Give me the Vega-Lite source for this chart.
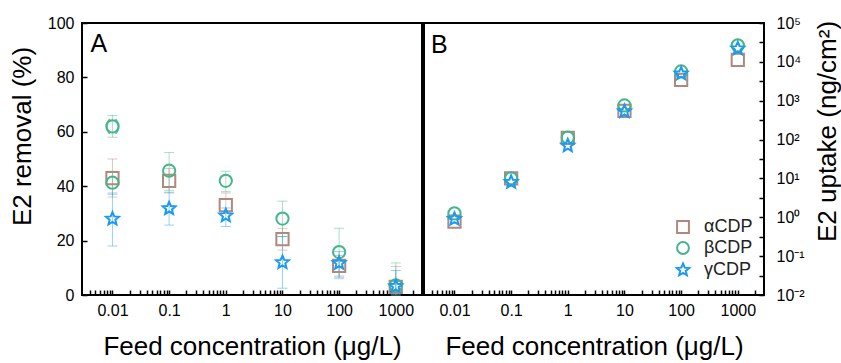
{
  "$schema": "https://vega.github.io/schema/vega-lite/v6.json",
  "padding": {"left": 8, "top": 14, "right": 2, "bottom": 0},
  "background": "white",
  "hconcat": [
    {
      "width": 340,
      "height": 272,
      "data": {"values": [
        {"conc": 0.01, "cdp": "αCDP", "v": 43, "lo": 36, "hi": 50, "paren": false},
        {"conc": 0.01, "cdp": "βCDP", "v": 41.3, "lo": 37, "hi": 45.5, "paren": false},
        {"conc": 0.01, "cdp": "βCDP", "v": 62, "lo": 58, "hi": 66, "paren": true},
        {"conc": 0.01, "cdp": "γCDP", "v": 28, "lo": 18, "hi": 37.5, "paren": false},
        {"conc": 0.1, "cdp": "αCDP", "v": 42, "lo": 37.5, "hi": 46.5, "paren": false},
        {"conc": 0.1, "cdp": "βCDP", "v": 45.7, "lo": 38.5, "hi": 52.4, "paren": false},
        {"conc": 0.1, "cdp": "γCDP", "v": 31.8, "lo": 25.7, "hi": 37.8, "paren": false},
        {"conc": 1, "cdp": "αCDP", "v": 33, "lo": 30, "hi": 37.5, "paren": false},
        {"conc": 1, "cdp": "βCDP", "v": 42, "lo": 38, "hi": 45.5, "paren": false},
        {"conc": 1, "cdp": "γCDP", "v": 29.2, "lo": 25.2, "hi": 32, "paren": false},
        {"conc": 10, "cdp": "αCDP", "v": 20.5, "lo": 16.5, "hi": 24.5, "paren": false},
        {"conc": 10, "cdp": "βCDP", "v": 28.1, "lo": 21.5, "hi": 34.5, "paren": false},
        {"conc": 10, "cdp": "γCDP", "v": 12, "lo": 2.5, "hi": 21.5, "paren": false},
        {"conc": 100, "cdp": "αCDP", "v": 10.7, "lo": 6, "hi": 14.5, "paren": false},
        {"conc": 100, "cdp": "βCDP", "v": 15.8, "lo": 7, "hi": 24.5, "paren": false},
        {"conc": 100, "cdp": "γCDP", "v": 11.7, "lo": 6.5, "hi": 16, "paren": false},
        {"conc": 1000, "cdp": "αCDP", "v": 3, "lo": 0, "hi": 10.5, "paren": false},
        {"conc": 1000, "cdp": "βCDP", "v": 3.5, "lo": 0, "hi": 11.8, "paren": false},
        {"conc": 1000, "cdp": "γCDP", "v": 3.2, "lo": 0, "hi": 9, "paren": false}
      ]},
      "layer": [
        {
          "mark": {"type": "rule", "strokeWidth": 1, "opacity": 0.45},
          "encoding": {
            "x": {"field": "conc", "type": "quantitative",
              "scale": {"type": "log", "domain": [0.0029, 2900], "nice": false},
              "axis": {"orient": "bottom", "title": "Feed concentration (μg/L)",
                "values": [0.004,0.005,0.006,0.007,0.008,0.009,0.01,0.02,0.03,0.04,0.05,0.06,0.07,0.08,0.09,0.1,0.2,0.3,0.4,0.5,0.6,0.7,0.8,0.9,1,2,3,4,5,6,7,8,9,10,20,30,40,50,60,70,80,90,100,200,300,400,500,600,700,800,900,1000,2000],
                "format": "~g",
                "labelExpr": "abs(log(datum.value)/LN10 - round(log(datum.value)/LN10)) < 0.001 ? datum.label : ''",
                "tickSize": -5, "labelPadding": 12, "titlePadding": 15}},
            "y": {"field": "lo", "type": "quantitative",
              "scale": {"domain": [0, 100], "nice": false},
              "axis": {"orient": "left", "title": "E2 removal (%)", "titleY": 113,
                "values": [0,10,20,30,40,50,60,70,80,90,100],
                "labelExpr": "datum.value % 20 === 0 ? datum.label : ''",
                "tickSize": -5, "labelPadding": 13, "titlePadding": 12}},
            "y2": {"field": "hi"},
            "color": {"field": "cdp", "type": "nominal", "legend": null,
              "scale": {"domain": ["αCDP", "βCDP", "γCDP"], "range": ["#b0887c", "#45b58a", "#1a9af0"]}}
          }
        },
        {
          "mark": {"type": "tick", "orient": "horizontal", "size": 10, "thickness": 1, "opacity": 0.45},
          "encoding": {
            "x": {"field": "conc", "type": "quantitative"},
            "y": {"field": "lo", "type": "quantitative"},
            "color": {"field": "cdp", "type": "nominal", "legend": null}
          }
        },
        {
          "mark": {"type": "tick", "orient": "horizontal", "size": 10, "thickness": 1, "opacity": 0.45},
          "encoding": {
            "x": {"field": "conc", "type": "quantitative"},
            "y": {"field": "hi", "type": "quantitative"},
            "color": {"field": "cdp", "type": "nominal", "legend": null}
          }
        },
        {
          "mark": {"type": "point", "filled": false, "strokeWidth": 2, "size": 150, "opacity": 1},
          "encoding": {
            "x": {"field": "conc", "type": "quantitative"},
            "y": {"field": "v", "type": "quantitative"},
            "color": {"field": "cdp", "type": "nominal", "legend": null},
            "shape": {"field": "cdp", "type": "nominal", "legend": null,
              "scale": {"domain": ["αCDP", "βCDP", "γCDP"], "range": ["square", "circle", "M0,-1.1L0.291,-0.4005L1.0462,-0.3399L0.4708,0.153L0.6466,0.8899L0,0.495L-0.6466,0.8899L-0.4708,0.153L-1.0462,-0.3399L-0.291,-0.4005Z"]}}
          }
        },
        {
          "transform": [{"filter": "datum.paren"}],
          "mark": {"type": "text", "text": "(   )", "fontSize": 16, "baseline": "middle", "color": "#45b58a"},
          "encoding": {
            "x": {"field": "conc", "type": "quantitative"},
            "y": {"field": "v", "type": "quantitative"}
          }
        },
        {
          "data": {"values": [{"t": "A", "x": 0.0041, "y": 89.3}]},
          "mark": {"type": "text", "fontSize": 25, "align": "left", "baseline": "alphabetic", "color": "black"},
          "encoding": {
            "x": {"field": "x", "type": "quantitative"},
            "y": {"field": "y", "type": "quantitative"},
            "text": {"field": "t"}
          }
        }
      ]
    },
    {
      "width": 340,
      "height": 272,
      "data": {"values": [
        {"conc": 0.01, "cdp": "αCDP", "v": 0.77},
        {"conc": 0.01, "cdp": "βCDP", "v": 1.26},
        {"conc": 0.01, "cdp": "γCDP", "v": 0.9},
        {"conc": 0.1, "cdp": "αCDP", "v": 10},
        {"conc": 0.1, "cdp": "βCDP", "v": 10.1},
        {"conc": 0.1, "cdp": "γCDP", "v": 8},
        {"conc": 1, "cdp": "αCDP", "v": 110},
        {"conc": 1, "cdp": "βCDP", "v": 113},
        {"conc": 1, "cdp": "γCDP", "v": 70},
        {"conc": 10, "cdp": "αCDP", "v": 550},
        {"conc": 10, "cdp": "βCDP", "v": 755},
        {"conc": 10, "cdp": "γCDP", "v": 530},
        {"conc": 100, "cdp": "αCDP", "v": 3450},
        {"conc": 100, "cdp": "βCDP", "v": 5650},
        {"conc": 100, "cdp": "γCDP", "v": 4950},
        {"conc": 1000, "cdp": "αCDP", "v": 11300},
        {"conc": 1000, "cdp": "βCDP", "v": 26500},
        {"conc": 1000, "cdp": "γCDP", "v": 21900}
      ]},
      "layer": [
        {
          "mark": {"type": "point", "filled": false, "strokeWidth": 2, "size": 150, "opacity": 1},
          "encoding": {
            "x": {"field": "conc", "type": "quantitative",
              "scale": {"type": "log", "domain": [0.0029, 2900], "nice": false},
              "axis": {"orient": "bottom", "title": "Feed concentration (μg/L)",
                "values": [0.004,0.005,0.006,0.007,0.008,0.009,0.01,0.02,0.03,0.04,0.05,0.06,0.07,0.08,0.09,0.1,0.2,0.3,0.4,0.5,0.6,0.7,0.8,0.9,1,2,3,4,5,6,7,8,9,10,20,30,40,50,60,70,80,90,100,200,300,400,500,600,700,800,900,1000,2000],
                "format": "~g",
                "labelExpr": "abs(log(datum.value)/LN10 - round(log(datum.value)/LN10)) < 0.001 ? datum.label : ''",
                "tickSize": -5, "labelPadding": 12, "titlePadding": 15}},
            "y": {"field": "v", "type": "quantitative",
              "scale": {"type": "log", "domain": [0.01, 100000], "nice": false},
              "axis": {"orient": "right", "title": "E2 uptake (ng/cm²)", "titleAngle": 270, "titleBaseline": "top", "titleY": 108,
                "values": [0.01,0.0316,0.1,0.316,1,3.16,10,31.6,100,316,1000,3162,10000,31623,100000],
                "labelExpr": "abs(log(datum.value)/LN10 - round(log(datum.value)/LN10)) < 0.001 ? '10' + ['⁻²','⁻¹','⁰','¹','²','³','⁴','⁵'][round(log(datum.value)/LN10)+2] : ''",
                "tickSize": -5, "labelPadding": 17, "titlePadding": 10}},
            "color": {"field": "cdp", "type": "nominal",
              "scale": {"domain": ["αCDP", "βCDP", "γCDP"], "range": ["#b0887c", "#45b58a", "#1a9af0"]},
              "legend": {"orient": "none", "legendX": 250, "legendY": 195, "title": null, "labelFontSize": 18, "labelColor": "#222", "symbolSize": 140, "symbolStrokeWidth": 2, "rowPadding": 1, "labelOffset": 12}},
            "shape": {"field": "cdp", "type": "nominal",
              "scale": {"domain": ["αCDP", "βCDP", "γCDP"], "range": ["square", "circle", "M0,-1.1L0.291,-0.4005L1.0462,-0.3399L0.4708,0.153L0.6466,0.8899L0,0.495L-0.6466,0.8899L-0.4708,0.153L-1.0462,-0.3399L-0.291,-0.4005Z"]},
              "legend": {"orient": "none", "legendX": 250, "legendY": 195, "title": null, "labelFontSize": 18, "labelColor": "#222", "symbolSize": 140, "symbolStrokeWidth": 2, "rowPadding": 1, "labelOffset": 12}}
          }
        },
        {
          "data": {"values": [{"t": "B", "x": 0.00385, "y": 16900}]},
          "mark": {"type": "text", "fontSize": 25, "align": "left", "baseline": "alphabetic", "color": "black"},
          "encoding": {
            "x": {"field": "x", "type": "quantitative"},
            "y": {"field": "y", "type": "quantitative"},
            "text": {"field": "t"}
          }
        }
      ]
    }
  ],
  "spacing": 0,
  "resolve": {"scale": {"x": "independent", "y": "independent", "color": "independent", "shape": "independent"}},
  "config": {
    "view": {"stroke": "black", "strokeWidth": 2},
    "font": "Liberation Sans",
    "axis": {
      "grid": false,
      "domain": false,
      "tickColor": "black",
      "tickWidth": 1.5,
      "labelFont": "Liberation Sans",
      "labelFontSize": 16,
      "labelColor": "black",
      "labelOverlap": false,
      "labelBound": false,
      "labelFlush": false,
      "titleFont": "Liberation Sans",
      "titleFontSize": 26,
      "titleFontWeight": "normal",
      "titleColor": "black"
    },
    "legend": {"labelFont": "Liberation Sans"}
  }
}
